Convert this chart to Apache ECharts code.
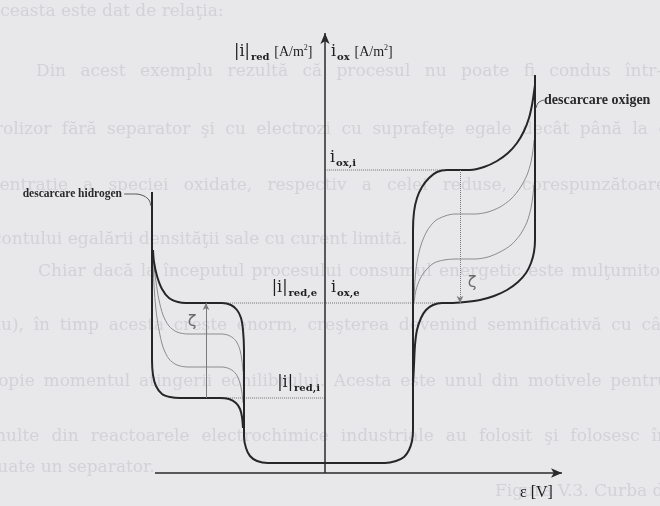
<!DOCTYPE html>
<html>
<head>
<meta charset="utf-8">
<script src="https://cdn.jsdelivr.net/npm/echarts@6/dist/echarts.min.js"></script>
<style>
  html, body { margin: 0; padding: 0; background: #e8e8eb; }
  #c { width: 660px; height: 506px; }
</style>
</head>
<body>
<div id="c"></div>
<script>
// Polarisation curves of a cell without separator.
// E: electrode potential (arbitrary units), i: current density (arbitrary units).

// current levels
const iOxLimit = 6.06;   // i_ox,i
const iEq = 3.40;        // |i|red,e = i_ox,e
const iRedLimit = 1.50;  // |i|red,i

// axes of the diagram (E axis at i = 0, i axis at E = 0)
const eAxisFrom = -3.40, eAxisTo = 4.74;
const iAxisTo = 8.80;

// hydrogen discharge branch falling onto the |i|red,i plateau
const hydrogenOuter = [
  [-3.46, 5.62], [-3.46, 3.46], [-3.46, 2.26], [-3.44, 1.96], [-3.38, 1.74],
  [-3.26, 1.58], [-3.10, 1.52], [-2.90, 1.50], [-2.10, 1.50], [-1.92, 1.48],
  [-1.78, 1.40], [-1.70, 1.28], [-1.66, 1.12], [-1.64, 0.90]
];

// main envelope: |i|red,e plateau, residual current, i_ox,i plateau, oxygen discharge
const envelope = [
  [-3.44, 4.46], [-3.42, 4.22], [-3.36, 3.94], [-3.26, 3.68], [-3.12, 3.50],
  [-2.94, 3.42], [-2.78, 3.40], [-2.06, 3.40], [-1.88, 3.36], [-1.76, 3.26],
  [-1.68, 3.10], [-1.64, 2.86], [-1.62, 2.46], [-1.62, 0.72], [-1.58, 0.50],
  [-1.50, 0.34], [-1.36, 0.24], [-1.14, 0.20], [1.20, 0.20], [1.42, 0.24],
  [1.58, 0.32], [1.68, 0.46], [1.74, 0.64], [1.76, 0.86], [1.76, 4.86],
  [1.78, 5.22], [1.84, 5.50], [1.94, 5.72], [2.08, 5.90], [2.24, 6.02],
  [2.44, 6.06], [2.90, 6.06], [3.18, 6.12], [3.44, 6.24], [3.66, 6.40],
  [3.84, 6.60], [3.98, 6.84], [4.08, 7.10], [4.14, 7.36], [4.18, 7.62],
  [4.20, 7.76]
];

// oxygen discharge branch falling onto the i_ox,e plateau
const oxygenOuter = [
  [4.20, 7.96], [4.20, 5.46], [4.20, 4.66], [4.18, 4.42], [4.12, 4.20],
  [4.02, 4.00], [3.86, 3.82], [3.64, 3.66], [3.38, 3.54], [3.10, 3.46],
  [2.80, 3.42], [2.50, 3.40], [2.34, 3.40], [2.16, 3.36], [2.02, 3.26],
  [1.92, 3.10], [1.84, 2.86], [1.80, 2.56], [1.78, 2.16], [1.76, 1.76]
];

// intermediate reduction curves
const redMidUpper = [
  [-3.44, 4.46], [-3.42, 4.16], [-3.38, 3.82], [-3.32, 3.46], [-3.24, 3.16],
  [-3.12, 2.94], [-2.96, 2.82], [-2.74, 2.78], [-2.06, 2.78], [-1.90, 2.74],
  [-1.78, 2.64], [-1.70, 2.46], [-1.66, 2.24], [-1.64, 2.02]
];
const redMidLower = [
  [-3.44, 4.22], [-3.42, 3.76], [-3.38, 3.26], [-3.32, 2.86], [-3.24, 2.52],
  [-3.12, 2.28], [-2.96, 2.16], [-2.74, 2.12], [-2.06, 2.12], [-1.90, 2.08],
  [-1.78, 1.98], [-1.70, 1.80], [-1.66, 1.60], [-1.64, 1.40]
];

// intermediate oxidation curves
const oxMidUpper = [
  [1.78, 3.46], [1.80, 3.86], [1.84, 4.22], [1.92, 4.56], [2.04, 4.84],
  [2.20, 5.04], [2.40, 5.14], [2.60, 5.18], [3.00, 5.18], [3.26, 5.22],
  [3.50, 5.32], [3.72, 5.48], [3.90, 5.70], [4.04, 5.96], [4.12, 6.22],
  [4.16, 6.46], [4.18, 6.66]
];
const oxMidLower = [
  [1.78, 3.40], [1.82, 3.66], [1.90, 3.88], [2.02, 4.06], [2.18, 4.20],
  [2.38, 4.26], [2.60, 4.28], [3.00, 4.28], [3.26, 4.32], [3.50, 4.42],
  [3.72, 4.56], [3.90, 4.76], [4.04, 5.02], [4.12, 5.30], [4.16, 5.56],
  [4.18, 5.76]
];

// reference levels drawn as dotted guides
const guideOxLimit = [[0, iOxLimit], [2.36, iOxLimit]];
const guideEq = [[-2.06, iEq], [2.36, iEq]];
const guideRedLimit = [[-2.06, iRedLimit], [0, iRedLimit]];

// leaders from the discharge labels
const hydrogenLeader = [[-4.02, 5.58], [-3.78, 5.58], [-3.62, 5.54], [-3.52, 5.46], [-3.48, 5.34]];
const oxygenLeader = [[4.22, 7.30], [4.26, 7.40], [4.32, 7.44], [4.38, 7.46]];

// zeta (limiting-current span) markers
const zetaRed = [[-2.38, iRedLimit], [-2.38, iEq]];
const zetaOx = [[2.70, iOxLimit], [2.70, iEq]];

// faint page text around the figure: [text, x start, x end of justified line (or null), y]
const paperLines = [
  ['aceasta este dat de relaţia:', -10, null, 12],
  ['Din acest exemplu rezultă că procesul nu poate fi condus într-un', 36, 684, 72],
  ['trolizor fără separator şi cu electrozi cu suprafeţe egale decât până la c', -12, 668, 130],
  ['centraţie a speciei oxidate, respectiv a celei reduse, corespunzătoare', -10, 666, 186],
  ['contului egalării densităţii sale cu curent limită.', -8, null, 240],
  ['Chiar dacă la începutul procesului consumul energetic este mulţumitor', 38, 668, 272],
  ['nu), în timp acesta creşte enorm, creşterea devenind semnificativă cu cât', -10, 668, 326],
  ['ropie momentul atingerii echilibrului. Acesta este unul din motivele pentru', -10, 668, 382],
  ['multe din reactoarele electrochimice industriale au folosit şi folosesc în', -10, 668, 437],
  ['juate un separator.', -8, null, 468],
  ['Figura V.3. Curba de polarizare globală a celulei fără separator', 495, null, 492]
];

const chart = echarts.init(document.getElementById('c'), null, { renderer: 'canvas' });

const thick = { color: '#262626', width: 2 };
const thin = { color: '#8c8c8c', width: 1 };
const dotted = { color: '#707070', width: 1, type: 'dotted' };

function curve(data, style) {
  return {
    type: 'line', data: data, showSymbol: false, smooth: 0.3,
    silent: true, lineStyle: style, z: 3
  };
}

chart.setOption({
  backgroundColor: '#e8e8eb',
  animation: false,
  grid: { left: 0, right: 0, top: 0, bottom: 0 },
  xAxis: { type: 'value', min: -6.5, max: 6.7, show: false },
  yAxis: { type: 'value', min: -0.66, max: 9.46, show: false },
  series: [
    curve(guideOxLimit, dotted),
    curve(guideEq, dotted),
    curve(guideRedLimit, dotted),
    curve(redMidUpper, thin),
    curve(redMidLower, thin),
    curve(oxMidUpper, thin),
    curve(oxMidLower, thin),
    curve(hydrogenOuter, thick),
    curve(envelope, thick),
    curve(oxygenOuter, thick),
    curve(hydrogenLeader, { color: '#555', width: 1 }),
    curve(oxygenLeader, { color: '#555', width: 1 }),
    {
      // diagram axes with arrow heads
      type: 'line', data: [], silent: true, z: 4,
      markLine: {
        silent: true, symbol: ['none', 'arrow'], symbolSize: [7, 11],
        label: { show: false }, animation: false,
        lineStyle: { color: '#2a2a2a', width: 1.5, type: 'solid' },
        data: [
          [{ coord: [eAxisFrom, 0] }, { coord: [eAxisTo, 0] }],
          [{ coord: [0, 0] }, { coord: [0, iAxisTo] }]
        ]
      }
    },
    {
      // zeta spans
      type: 'line', data: [], silent: true, z: 3,
      markLine: {
        silent: true, symbol: ['none', 'arrow'], symbolSize: [5, 7],
        label: { show: false }, animation: false,
        lineStyle: { color: '#7a7a7a', width: 1, type: 'solid' },
        data: [
          [{ coord: zetaRed[0] }, { coord: zetaRed[1] }],
          [{ coord: zetaOx[0] }, { coord: zetaOx[1], lineStyle: { type: 'dotted' } }]
        ]
      }
    }
  ]
});

const P = (e, i) => chart.convertToPixel({ gridIndex: 0 }, [e, i]);

// justified faint page text
const PAPER_FONT = '17px "DejaVu Serif"';
const measure = document.createElement('canvas').getContext('2d');
measure.font = PAPER_FONT;
function paperText(line) {
  const [text, x0, x1, y] = line;
  const base = { fontFamily: 'DejaVu Serif', fontSize: 17, fill: '#d2d2d7', verticalAlign: 'middle' };
  if (x1 === null) {
    return [{ type: 'text', x: x0, y: y, z: -5, silent: true, style: Object.assign({ text: text }, base) }];
  }
  const words = text.split(' ');
  const widths = words.map(w => measure.measureText(w).width);
  const total = widths.reduce((a, b) => a + b, 0);
  const gap = (x1 - x0 - total) / (words.length - 1);
  let x = x0;
  return words.map((w, k) => {
    const el = { type: 'text', x: x, y: y, z: -5, silent: true, style: Object.assign({ text: w }, base) };
    x += widths[k] + gap;
    return el;
  });
}

const rich = {
  m: { fontFamily: 'DejaVu Serif', fontSize: 16, fill: '#1e1e1e', verticalAlign: 'middle' },
  s: { fontFamily: 'DejaVu Serif', fontSize: 10, fontWeight: 'bold', fill: '#1e1e1e', padding: [10, 0, 0, 1], verticalAlign: 'middle' },
  u: { fontFamily: 'Liberation Serif', fontSize: 14, fill: '#1e1e1e', verticalAlign: 'middle' },
  p: { fontFamily: 'Liberation Serif', fontSize: 8, fill: '#1e1e1e', padding: [0, 0, 9, 0], verticalAlign: 'middle' }
};

function label(text, e, i, align, style) {
  const p = P(e, i);
  return {
    type: 'text', x: p[0], y: p[1], z: 20, silent: true,
    style: Object.assign({ text: text, rich: rich, align: align, verticalAlign: 'middle',
      fontFamily: 'DejaVu Serif', fontSize: 15, fill: '#1e1e1e' }, style || {})
  };
}

const graphics = [];
paperLines.forEach(l => graphics.push.apply(graphics, paperText(l)));

const plain = (family, size, weight, color) => ({ rich: null, fontFamily: family, fontSize: size, fontWeight: weight, fill: color });

graphics.push(
  label('{m||i|}{s|red} {u|[A/m}{p|2}{u|]}', -0.25, 8.42, 'right'),
  label('{m|i}{s|ox} {u|[A/m}{p|2}{u|]}', 0.12, 8.42, 'left'),
  label('{m|i}{s|ox,i}', 0.10, 6.30, 'left'),
  label('{m||i|}{s|red,e}', -0.16, 3.70, 'right'),
  label('{m|i}{s|ox,e}', 0.12, 3.70, 'left'),
  label('{m||i|}{s|red,i}', -0.10, 1.80, 'right'),
  label('ε [V]', 3.90, -0.40, 'left', plain('Liberation Serif', 16, 'normal', '#1e1e1e')),
  label('descarcare oxigen', 4.38, 7.46, 'left', plain('Liberation Serif', 14, 'bold', '#2a2a2a')),
  label('descarcare hidrogen', -4.06, 5.58, 'right', plain('Liberation Serif', 11.5, 'bold', '#2a2a2a')),
  label('ζ', -2.66, 3.02, 'center', plain('DejaVu Sans', 16, 'normal', '#6a6a6a')),
  label('ζ', 2.94, 3.80, 'center', plain('DejaVu Sans', 16, 'normal', '#6a6a6a'))
);

chart.setOption({ graphic: { elements: graphics } });
</script>
</body>
</html>
